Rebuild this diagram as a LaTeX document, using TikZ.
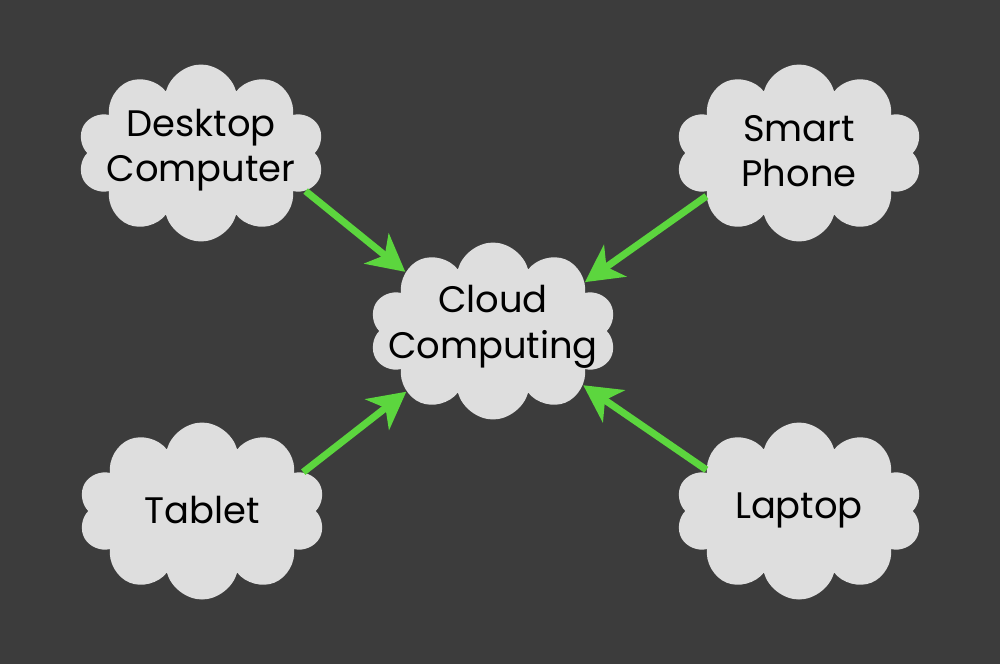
\documentclass[tikz,border=0pt]{standalone}
\usepackage{fontspec}
\setmainfont{Poppins}
\usetikzlibrary{shapes.symbols,arrows.meta}
\definecolor{board}{RGB}{60,60,60}
\definecolor{chalk}{RGB}{222,222,222}
\definecolor{leaf}{RGB}{92,214,62}

\begin{document}
\begin{tikzpicture}[x=0.02cm, y=0.02cm]
\tikzstyle{every node}+=[inner sep=0pt]
\tikzstyle{puff}=[cloud, cloud puffs=10, cloud puff arc=150, cloud ignores aspect, minimum width=4.94cm, minimum height=3.54cm, fill=chalk]
\tikzstyle{word}=[align=center, font=\fontsize{21}{26}\selectfont, text=black]
\tikzstyle{link}=[draw=leaf, line width=4pt, -{Stealth[length=21pt,width=22pt,inset=6pt]}]
\fill [board] (0,0) rectangle (1000,-664);
% clouds
\node [puff] (desk) at (201,-153) {};
\node [puff] (phone) at (799,-153) {};
\node [puff] (cc) at (493,-331) {};
\node [puff] (tab) at (202,-511) {};
\node [puff] (lap) at (799,-511) {};
% labels
\node [word] (deskTxt) at (201,-150) {Desktop\\Computer};
\node [word] (phoneTxt) at (799,-151) {Smart\\Phone};
\node [word] (ccTxt) at (493,-327) {Cloud\\Computing};
\node [word] (tabTxt) at (202,-510) {Tablet};
\node [word] (lapTxt) at (799,-510) {Laptop};
% arrows
\draw [link] (desk.-20) -- (cc.146);
\draw [link] (phone.205) -- (cc.28);
\draw [link] (tab.21) -- (cc.215);
\draw [link] (lap.156) -- (cc.-31);
\end{tikzpicture}
\end{document}
